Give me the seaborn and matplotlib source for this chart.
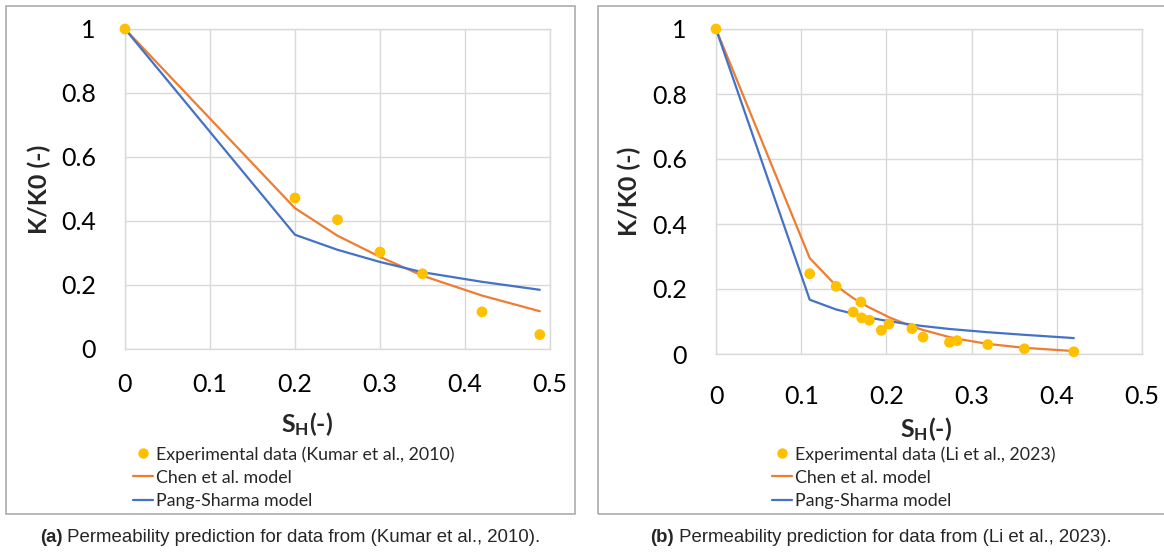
import matplotlib
matplotlib.use("Agg")
import matplotlib.pyplot as plt
from matplotlib.patches import Rectangle
from matplotlib.lines import Line2D
import seaborn as sns
import pandas as pd

# Panel (a): Kumar et al. (2010)
x_kumar = [0.0, 0.20, 0.25, 0.30, 0.35, 0.42, 0.488]
exp_kumar = [1.0, 0.472, 0.404, 0.303, 0.235, 0.116, 0.045]
chen_kumar = [1.0, 0.440, 0.354, 0.288, 0.229, 0.167, 0.118]
pang_kumar = [1.0, 0.357, 0.310, 0.272, 0.240, 0.210, 0.185]

# Panel (b): Li et al. (2023)
x_li = [0.0, 0.110, 0.141, 0.161, 0.170, 0.171, 0.180, 0.194, 0.203,
        0.230, 0.243, 0.274, 0.283, 0.319, 0.362, 0.420]
exp_li = [1.0, 0.247, 0.208, 0.129, 0.160, 0.111, 0.104, 0.073, 0.092,
          0.078, 0.052, 0.036, 0.041, 0.029, 0.016, 0.007]
chen_li = [1.0, 0.295, 0.210, 0.172, 0.158, 0.156, 0.143, 0.125, 0.113,
           0.085, 0.074, 0.052, 0.047, 0.031, 0.019, 0.009]
pang_li = [1.0, 0.167, 0.137, 0.124, 0.118, 0.117, 0.112, 0.105, 0.101,
           0.090, 0.086, 0.077, 0.075, 0.067, 0.059, 0.049]

x_ticks = [0, 0.1, 0.2, 0.3, 0.4, 0.5]
x_tick_labels = ["0", "0.1", "0.2", "0.3", "0.4", "0.5"]
y_ticks = [0, 0.2, 0.4, 0.6, 0.8, 1.0]
y_tick_labels = ["0", "0.2", "0.4", "0.6", "0.8", "1"]

exp_labels = ["Experimental data (Kumar et al., 2010)", "Experimental data (Li et al., 2023)"]
model_labels = ["Chen et al. model", "Pang-Sharma model"]
captions = [("(a)", " Permeability prediction for data from (Kumar et al., 2010)."),
            ("(b)", " Permeability prediction for data from (Li et al., 2023).")]

YELLOW = "#FFC000"
ORANGE = "#ED7D31"
BLUE = "#4472C4"
GRID = "#D9D9D9"

sns.set_theme(style="white")
plt.rcParams["font.family"] = ["Lato", "DejaVu Sans"]
plt.rcParams["mathtext.fontset"] = "custom"
plt.rcParams["mathtext.rm"] = "Lato"
plt.rcParams["mathtext.bf"] = "Lato:bold"

W, H = 1164, 553
fig = plt.figure(figsize=(W / 100, H / 100), dpi=100)
fig.patch.set_facecolor("white")


def fx(px):
    return px / W


def fy(py):
    return 1 - py / H


# chart-area frames
for (x0, x1) in [(6, 575), (598, 1170)]:
    fig.patches.append(Rectangle((fx(x0), fy(514)), fx(x1 - x0), (514 - 5.5) / H,
                                 transform=fig.transFigure, fill=False,
                                 edgecolor="#A6A6A6", linewidth=1.1, zorder=0))

panels = [
    dict(rect=(125, 29, 550, 349), x=x_kumar, exp=exp_kumar, chen=chen_kumar, pang=pang_kumar,
         xpad=17.5, ylab_x=39, xlab_x=307, xlab_y=424, leg=(133, 446), cap_x=40, cap_y=538),
    dict(rect=(716, 29, 1142, 354), x=x_li, exp=exp_li, chen=chen_li, pang=pang_li,
         xpad=22, ylab_x=629, xlab_x=926, xlab_y=429, leg=(772, 446), cap_x=650, cap_y=538),
]

fig.canvas.draw()
renderer = fig.canvas.get_renderer()

for i, p in enumerate(panels):
    l, t, r, b = p["rect"]
    ax = fig.add_axes([fx(l), fy(b), fx(r - l), (b - t) / H])
    df_exp = pd.DataFrame({"x": p["x"], "y": p["exp"]})
    df_chen = pd.DataFrame({"x": p["x"], "y": p["chen"]})
    df_pang = pd.DataFrame({"x": p["x"], "y": p["pang"]})

    sns.lineplot(data=df_chen, x="x", y="y", ax=ax, color=ORANGE, linewidth=1.6,
                 errorbar=None, zorder=3)
    sns.lineplot(data=df_pang, x="x", y="y", ax=ax, color=BLUE, linewidth=1.6,
                 errorbar=None, zorder=3)
    sns.scatterplot(data=df_exp, x="x", y="y", ax=ax, color=YELLOW, s=60,
                    edgecolor="none", zorder=4, clip_on=False)

    ax.set_xlim(0, 0.5)
    ax.set_ylim(0, 1)
    ax.set_xticks(x_ticks)
    ax.set_xticklabels(x_tick_labels)
    ax.set_yticks(y_ticks)
    ax.set_yticklabels(y_tick_labels)
    ax.tick_params(axis="both", length=0, labelsize=18, colors="black")
    ax.tick_params(axis="x", pad=p["xpad"])
    ax.tick_params(axis="y", pad=21)
    ax.grid(True, color=GRID, linewidth=1.0)
    ax.set_axisbelow(True)
    for s in ax.spines.values():
        s.set_color(GRID)
        s.set_linewidth(1.0)
    ax.set_xlabel("")
    ax.set_ylabel("")

    fig.text(fx(p["ylab_x"]), fy((t + b) / 2), "K/K0 (-)", rotation=90,
             ha="center", va="center", fontsize=18, fontweight="bold")
    fig.text(fx(p["xlab_x"]), fy(p["xlab_y"]), r"$\mathbf{S_H}$(-)",
             ha="center", va="center", fontsize=18, fontweight="bold")

    handles = [
        Line2D([], [], linestyle="none", marker="o", markersize=7.5,
               markerfacecolor=YELLOW, markeredgecolor="none"),
        Line2D([], [], color=ORANGE, linewidth=1.6),
        Line2D([], [], color=BLUE, linewidth=1.6),
    ]
    lx, ly = p["leg"]
    fig.legend(handles, [exp_labels[i]] + model_labels, loc="upper left",
               bbox_to_anchor=(fx(lx), fy(ly)), bbox_transform=fig.transFigure,
               frameon=False, fontsize=12.8, handlelength=1.1, handletextpad=0.17,
               labelspacing=0.40, borderpad=0, borderaxespad=0)

    bold, rest = captions[i]
    t1 = fig.text(fx(p["cap_x"]), fy(p["cap_y"]), bold, ha="left", va="center",
                  fontsize=13.4, fontweight="bold", family="Liberation Sans")
    bb = t1.get_window_extent(renderer=renderer)
    fig.text(bb.x1 / W, fy(p["cap_y"]), rest, ha="left", va="center",
             fontsize=13.4, family="Liberation Sans")

fig.savefig("out.png", dpi=100, facecolor="white")
